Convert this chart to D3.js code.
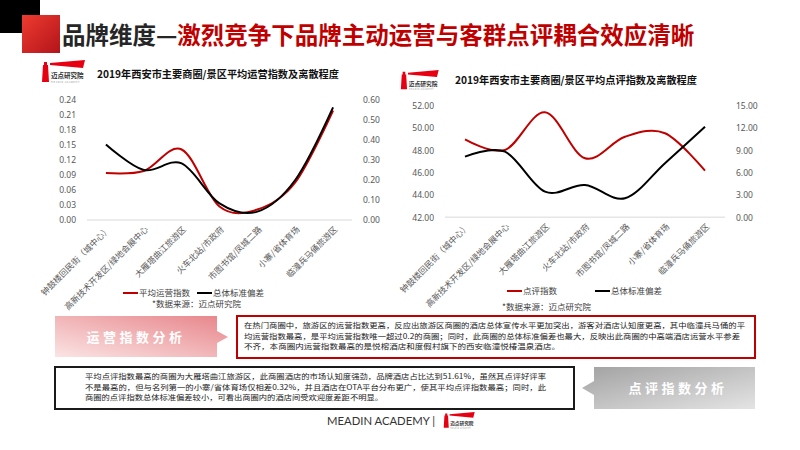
<!DOCTYPE html>
<html><head><meta charset="utf-8">
<script src="https://cdn.jsdelivr.net/npm/d3@7"></script>
<style>
html,body{margin:0;padding:0;background:#fff;}
svg{display:block;font-family:"Noto Sans CJK SC","Noto Sans",sans-serif;}
</style></head>
<body>
<svg id="c" width="800" height="450"></svg>
<script>
const categories = ["钟鼓楼回民街（城中心）","高新技术开发区/绿地会展中心","大雁塔曲江旅游区","火车北站/市政府","市图书馆/凤城二路","小寨/省体育场","临潼兵马俑旅游区"];
const opIndex = [0.094, 0.098, 0.141, 0.027, 0.021, 0.075, 0.219];
const opStd = [0.378, 0.250, 0.283, 0.083, 0.042, 0.200, 0.563];
const revIndex = [49.00, 48.05, 51.43, 47.30, 49.24, 49.55, 46.19];
const revStd = [8.17, 8.84, 3.45, 4.35, 2.56, 7.30, 12.21];
const opLeftTicks = [0, 0.03, 0.06, 0.09, 0.12, 0.15, 0.18, 0.21, 0.24];
const opRightTicks = [0, 0.1, 0.2, 0.3, 0.4, 0.5, 0.6];
const revLeftTicks = [42, 44, 46, 48, 50, 52];
const revRightTicks = [0, 3, 6, 9, 12, 15];
const seriesNames1 = ["平均运营指数", "总体标准偏差"];
const seriesNames2 = ["点评指数", "总体标准偏差"];
const opText = ["在热门商圈中，旅游区的运营指数更高，反应出旅游区商圈的酒店总体宣传水平更加突出，游客对酒店认知度更高，其中临潼兵马俑的平",
"均运营指数最高，是平均运营指数唯一超过0.2的商圈；同时，此商圈的总体标准偏差也最大，反映出此商圈的中高端酒店运营水平参差",
"不齐，本商圈内运营指数最高的是悦榕酒店和度假村旗下的西安临潼悦椿温泉酒店。"];
const revText = ["平均点评指数最高的商圈为大雁塔曲江旅游区，此商圈酒店的市场认知度强劲，品牌酒店占比达到51.61%，虽然其点评好评率",
"不是最高的，但与名列第一的小寨/省体育场仅相差0.32%，并且酒店在OTA平台分布更广，使其平均点评指数最高；同时，此",
"商圈的点评指数总体标准偏差较小，可看出商圈内的酒店间受欢迎度差距不明显。"];

const svg = d3.select("#c");
const defs = svg.append("defs");
function grad(id, x1,y1,x2,y2, stops){
  const g = defs.append("linearGradient").attr("id",id).attr("x1",x1).attr("y1",y1).attr("x2",x2).attr("y2",y2);
  stops.forEach(s=>g.append("stop").attr("offset",s[0]).attr("stop-color",s[1]));
}
grad("gRed",0,0,1,1,[[0,"#ee3b30"],[1,"#b3141a"]]);
grad("gPink",0,1,1,0,[[0,"#fbe4e4"],[1,"#e7858a"]]);
grad("gGray",0,0,1,1,[[0,"#a2a2a2"],[1,"#e4e4e4"]]);

// header
svg.append("rect").attr("x",0).attr("y",0).attr("width",40).attr("height",33).attr("fill","#000");
svg.append("rect").attr("x",22).attr("y",15).attr("width",38).attr("height",38).attr("fill","url(#gRed)");
const title = svg.append("text").attr("x",62).attr("y",44).attr("font-size",23.5).attr("font-weight","bold");
title.append("tspan").attr("fill","#262626").text("品牌维度—");
title.append("tspan").attr("fill","#c00000").text("激烈竞争下品牌主动运营与客群点评耦合效应清晰");

// logo
function logo(x,y,s){
  const g = svg.append("g").attr("transform",`translate(${x},${y}) scale(${s})`);
  g.append("path").attr("d","M3,2 L6,2 L6,5 L7,5 L8,22 L1,22 L2,5 L3,5 Z").attr("fill","#e60012");
  g.append("path").attr("d","M9,3 L44,0 L42,8 L9,5 Z").attr("fill","#e60012");
  g.append("text").attr("x",10).attr("y",18).attr("font-size",6.5).attr("font-weight","bold").attr("fill","#333").text("迈点研究院");
  g.append("text").attr("x",10).attr("y",23).attr("font-size",2.6).attr("fill","#999").attr("letter-spacing",0.5).text("MEADIN ACADEMY");
}
logo(41,60,1);
logo(400,70,0.88);

function chart(o){
  const x = d3.scalePoint().domain(categories).range([o.x0,o.x1]).padding(0.5);
  const yl = d3.scaleLinear().domain([o.lt[0],o.lt[o.lt.length-1]]).range([o.yb,o.yt]);
  const yr = d3.scaleLinear().domain([o.rt[0],o.rt[o.rt.length-1]]).range([o.yb,o.yt]);
  svg.append("text").attr("x",o.tx).attr("y",o.ty).attr("text-anchor","middle")
    .attr("font-size",10.2).attr("font-weight","bold").attr("fill","#111").text(o.title);
  const ax = svg.append("g").attr("transform",`translate(${o.x0-8},0)`)
    .call(d3.axisLeft(yl).tickValues(o.lt).tickSize(0).tickFormat(d3.format(".2f")));
  ax.select(".domain").remove();
  ax.selectAll("text").attr("font-size",8.5).attr("fill","#595959").attr("font-family","Noto Sans, sans-serif");
  const ar = svg.append("g").attr("transform",`translate(${o.x1+8},0)`)
    .call(d3.axisRight(yr).tickValues(o.rt).tickSize(0).tickFormat(d3.format(".2f")));
  ar.select(".domain").remove();
  ar.selectAll("text").attr("font-size",8.5).attr("fill","#595959").attr("font-family","Noto Sans, sans-serif");
  svg.append("line").attr("x1",o.x0).attr("x2",o.x1).attr("y1",o.yb).attr("y2",o.yb).attr("stroke","#e6e6e6").attr("stroke-width",1.5);
  const curve = d3.curveCardinal.tension(0);
  svg.append("path").datum(o.s1).attr("fill","none").attr("stroke","#c00000").attr("stroke-width",2)
    .attr("d",d3.line().x((d,i)=>x(categories[i])).y(d=>yl(d)).curve(curve));
  svg.append("path").datum(o.s2).attr("fill","none").attr("stroke","#000").attr("stroke-width",2)
    .attr("d",d3.line().x((d,i)=>x(categories[i])).y(d=>yr(d)).curve(curve));
  categories.forEach(c=>{
    svg.append("text").attr("transform",`translate(${x(c)+5},${o.yb+10}) rotate(-45)`).attr("text-anchor","end")
      .attr("font-size",8.5).attr("fill","#595959").text(c);
  });
  // legend
  o.leg.forEach((l,i)=>{
    svg.append("line").attr("x1",l[0]).attr("x2",l[0]+15).attr("y1",o.ly).attr("y2",o.ly)
      .attr("stroke",i===0?"#c00000":"#000").attr("stroke-width",2);
    svg.append("text").attr("x",l[0]+16).attr("y",o.ly+3).attr("font-size",8.5).attr("fill","#404040").text(o.names[i]);
  });
  svg.append("text").attr("x",o.sx).attr("y",o.sy).attr("font-size",8.5).attr("fill","#404040").text("*数据来源：迈点研究院");
}

chart({x0:87,x1:352,yb:220,yt:100,lt:opLeftTicks,rt:opRightTicks,s1:opIndex,s2:opStd,
  title:"2019年西安市主要商圈/景区平均运营指数及离散程度",tx:218,ty:78,names:seriesNames1,
  leg:[[123],[197]],ly:293,sx:152,sy:307});
chart({x0:445,x1:725,yb:217.3,yt:106,lt:revLeftTicks,rt:revRightTicks,s1:revIndex,s2:revStd,
  title:"2019年西安市主要商圈/景区平均点评指数及离散程度",tx:576,ty:84,names:seriesNames2,
  leg:[[507],[595]],ly:291,sx:502,sy:310});

// analysis boxes
svg.append("path").attr("d","M55,316 L217,316 L217,331 L228,337 L217,343 L217,357 L55,357 Z").attr("fill","url(#gPink)");
svg.append("text").attr("x",136).attr("y",342).attr("text-anchor","middle").attr("font-size",13).attr("font-weight","bold")
  .attr("letter-spacing",3.5).attr("fill","#fff").text("运营指数分析");
svg.append("rect").attr("x",237).attr("y",316).attr("width",518).attr("height",42).attr("fill","#fff").attr("stroke","#c00000").attr("stroke-width",2);
const opLens = [501, 496, 316];
opText.forEach((t,i)=>{
  svg.append("text").attr("x",244).attr("y",327.8+i*10.8).attr("font-size",7.4).attr("fill","#222")
    .attr("textLength",opLens[i]).attr("lengthAdjust","spacingAndGlyphs").text(t);
});

svg.append("rect").attr("x",55).attr("y",367).attr("width",519).attr("height",42).attr("fill","#fff").attr("stroke","#1a1a1a").attr("stroke-width",2);
const revLens = [461, 461, 298];
revText.forEach((t,i)=>{
  svg.append("text").attr("x",85).attr("y",378.8+i*10.8).attr("font-size",7.4).attr("fill","#222")
    .attr("textLength",revLens[i]).attr("lengthAdjust","spacingAndGlyphs").text(t);
});
svg.append("path").attr("d","M594,367 L755,367 L755,409 L594,409 L594,395 L582,388 L594,381 Z").attr("fill","url(#gGray)");
svg.append("text").attr("x",678).attr("y",393).attr("text-anchor","middle").attr("font-size",13).attr("font-weight","bold")
  .attr("letter-spacing",3.5).attr("fill","#fff").text("点评指数分析");

// footer
svg.append("text").attr("x",327).attr("y",425).attr("font-size",11.5).attr("fill","#333")
  .attr("textLength",108).attr("lengthAdjust","spacingAndGlyphs")
  .attr("font-family","Lato, sans-serif").text("MEADIN ACADEMY |");
logo(443,412,0.72);
</script>
</body></html>
